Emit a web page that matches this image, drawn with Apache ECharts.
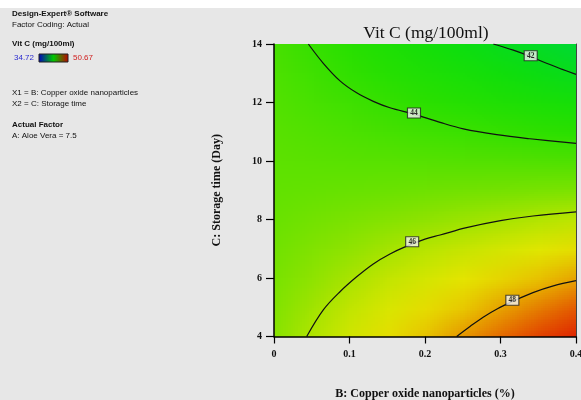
<!DOCTYPE html>
<html>
<head>
<meta charset="utf-8">
<script src="https://cdn.jsdelivr.net/npm/echarts/dist/echarts.min.js"></script>
<style>
  html, body { margin: 0; padding: 0; background: #e7e7e7; }
  #chart { width: 581px; height: 400px; }
</style>
</head>
<body>
<div id="chart"></div>
<script>
// ---- Response surface: Vit C (mg/100ml) over copper oxide (%) and storage time (day)
const copperOxide = [0, 0.05, 0.1, 0.15, 0.2, 0.25, 0.3, 0.35, 0.4];
const storageDays = [4, 5, 6, 7, 8, 9, 10, 11, 12, 13, 14];
// one row per storage day, one column per copper oxide level
const vitC = [
  [45.55, 46.06, 46.56, 47.07, 47.58, 48.08, 48.59, 49.09, 49.60],
  [45.43, 45.85, 46.26, 46.68, 47.09, 47.51, 47.92, 48.34, 48.76],
  [45.31, 45.64, 45.96, 46.29, 46.61, 46.94, 47.26, 47.59, 47.91],
  [45.19, 45.43, 45.66, 45.90, 46.13, 46.37, 46.60, 46.83, 47.07],
  [45.07, 45.22, 45.36, 45.51, 45.65, 45.79, 45.94, 46.08, 46.22],
  [44.96, 45.01, 45.06, 45.11, 45.17, 45.22, 45.27, 45.33, 45.38],
  [44.84, 44.80, 44.76, 44.72, 44.69, 44.65, 44.61, 44.57, 44.54],
  [44.72, 44.59, 44.46, 44.33, 44.20, 44.08, 43.95, 43.82, 43.69],
  [44.60, 44.38, 44.16, 43.94, 43.72, 43.50, 43.29, 43.07, 42.85],
  [44.48, 44.17, 43.86, 43.55, 43.24, 42.93, 42.62, 42.31, 42.00],
  [44.36, 43.96, 43.56, 43.16, 42.76, 42.36, 41.96, 41.56, 41.16]
];
const responseRange = [34.72, 50.67];

// contour lines [copper oxide, storage day]
const contourLevels = [42, 44, 46, 48];
const contour42 = [[0.2905, 14], [0.317, 13.79], [0.340, 13.57], [0.361, 13.34], [0.38, 13.15], [0.4, 12.96]];
const contour44 = [[0.0455, 14], [0.0653, 13.34], [0.0874, 12.74], [0.1095, 12.33], [0.1315, 12.04], [0.1536, 11.82],
                   [0.1854, 11.6], [0.22, 11.32], [0.2508, 11.1], [0.295, 10.9], [0.339, 10.76], [0.4, 10.6]];
const contour46 = [[0.0433, 4], [0.0653, 4.91], [0.0874, 5.53], [0.1095, 6.04], [0.1315, 6.48], [0.1536, 6.82],
                   [0.175, 7.08], [0.2, 7.33], [0.22, 7.47], [0.255, 7.72], [0.3, 7.96], [0.343, 8.12], [0.4, 8.26]];
const contour48 = [[0.242, 4], [0.26, 4.35], [0.277, 4.66], [0.296, 4.95], [0.316, 5.2], [0.343, 5.5], [0.37, 5.73], [0.4, 5.91]];
const contourLabelAt = [[0.340, 13.6], [0.1854, 11.64], [0.183, 7.24], [0.3157, 5.24]];

const xTicks = [0, 0.1, 0.2, 0.3, 0.4];
const yTicks = [4, 6, 8, 10, 12, 14];

// ---- colour ramp (blue -> green -> yellow -> red)
const rampStops = [
  [34.72, [0, 0, 230]],
  [38.5, [0, 150, 170]],
  [41.2, [0, 218, 50]],
  [42.5, [14, 222, 12]],
  [43.7, [42, 224, 0]],
  [45.0, [100, 226, 0]],
  [45.6, [140, 227, 0]],
  [46.2, [190, 229, 0]],
  [46.9, [228, 230, 0]],
  [47.5, [232, 200, 0]],
  [48.1, [230, 145, 0]],
  [48.8, [228, 85, 0]],
  [49.4, [224, 40, 0]],
  [50.67, [212, 0, 0]]
];
function rampColor(v) {
  if (v <= rampStops[0][0]) return rampStops[0][1];
  for (let i = 1; i < rampStops.length; i++) {
    const [v1, c1] = rampStops[i];
    const [v0, c0] = rampStops[i - 1];
    if (v <= v1) {
      const t = (v - v0) / (v1 - v0);
      return c0.map((c, k) => c + (c1[k] - c) * t);
    }
  }
  return rampStops[rampStops.length - 1][1];
}

// one pixel per surface node, top row = longest storage time
const nx = copperOxide.length, ny = storageDays.length;
const nodeImage = document.createElement('canvas');
nodeImage.width = nx; nodeImage.height = ny;
(function () {
  const ctx = nodeImage.getContext('2d');
  const img = ctx.createImageData(nx, ny);
  for (let r = 0; r < ny; r++) {
    const row = vitC[ny - 1 - r];
    for (let c = 0; c < nx; c++) {
      const col = rampColor(row[c]);
      const o = (r * nx + c) * 4;
      img.data[o] = Math.round(col[0]);
      img.data[o + 1] = Math.round(col[1]);
      img.data[o + 2] = Math.round(col[2]);
      img.data[o + 3] = 255;
    }
  }
  ctx.putImageData(img, 0, 0);
})();

function renderSurface(params, api) {
  const tl = api.coord([copperOxide[0], storageDays[ny - 1]]);
  const br = api.coord([copperOxide[nx - 1], storageDays[0]]);
  const w = br[0] - tl[0], h = br[1] - tl[1];
  const cw = w / (nx - 1), ch = h / (ny - 1);
  const out = document.createElement('canvas');
  out.width = Math.round(w); out.height = Math.round(h);
  const ctx = out.getContext('2d');
  ctx.imageSmoothingEnabled = true;
  ctx.drawImage(nodeImage, -cw / 2, -ch / 2, out.width + cw, out.height + ch);
  return { type: 'image', style: { image: out, x: tl[0], y: tl[1], width: w, height: h } };
}

const contours = [contour42, contour44, contour46, contour48];
const serif = 'Liberation Serif, Times New Roman, serif';
const sans = 'Liberation Sans, Arial, sans-serif';

const chart = echarts.init(document.getElementById('chart'), null, { renderer: 'canvas' });
chart.setOption({
  backgroundColor: '#e7e7e7',
  animation: false,
  grid: { left: 274, top: 44, right: 5, bottom: 63.5, outerBoundsMode: 'none', containLabel: false },
  xAxis: {
    type: 'value', min: xTicks[0], max: xTicks[xTicks.length - 1], interval: 0.1, z: 10,
    axisLine: { lineStyle: { color: '#000', width: 1.5 } },
    axisTick: { length: 7, lineStyle: { color: '#000', width: 1.2 } },
    axisLabel: { fontFamily: serif, fontWeight: 'bold', fontSize: 10, color: '#111', margin: 13 },
    splitLine: { show: false },
    name: 'B: Copper oxide nanoparticles (%)', nameLocation: 'middle', nameGap: 51,
    nameTextStyle: { fontFamily: serif, fontWeight: 'bold', fontSize: 12, color: '#111' }
  },
  yAxis: [{
    type: 'value', min: yTicks[0], max: yTicks[yTicks.length - 1], interval: 2, z: 10,
    axisLine: { lineStyle: { color: '#000', width: 1.5 } },
    axisTick: { length: 8, lineStyle: { color: '#000', width: 1.2 } },
    axisLabel: { fontFamily: serif, fontWeight: 'bold', fontSize: 10, color: '#111', margin: 12 },
    splitLine: { show: false },
    name: 'C: Storage time (Day)', nameLocation: 'middle', nameGap: 51, nameRotate: 90,
    nameTextStyle: { fontFamily: serif, fontWeight: 'bold', fontSize: 12, color: '#111' }
  }, {
    type: 'value', position: 'right', min: yTicks[0], max: yTicks[yTicks.length - 1], z: 10,
    axisLine: { show: true, lineStyle: { color: '#444', width: 1 } },
    axisTick: { show: false }, axisLabel: { show: false }, splitLine: { show: false }
  }],
  graphic: [
    { type: 'rect', shape: { x: 0, y: 0, width: 581, height: 8 }, style: { fill: '#ffffff' }, silent: true },
    { type: 'text', x: 12, y: 14, style: { text: 'Design-Expert® Software', font: 'bold 8px ' + sans, fill: '#111', verticalAlign: 'middle' } },
    { type: 'text', x: 12, y: 24.5, style: { text: 'Factor Coding: Actual', font: '8px ' + sans, fill: '#111', verticalAlign: 'middle' } },
    { type: 'text', x: 12, y: 44, style: { text: 'Vit C (mg/100ml)', font: 'bold 8px ' + sans, fill: '#111', verticalAlign: 'middle' } },
    { type: 'text', x: 14, y: 58, style: { text: String(responseRange[0]), font: '8px ' + sans, fill: '#2b2bd0', verticalAlign: 'middle' } },
    { type: 'rect', shape: { x: 39, y: 54, width: 29, height: 8 },
      style: { fill: new echarts.graphic.LinearGradient(0, 0, 1, 0, [
        { offset: 0, color: '#0000c0' }, { offset: 0.5, color: '#00c800' }, { offset: 1, color: '#c00000' }]),
        stroke: '#222', lineWidth: 1 } },
    { type: 'text', x: 73, y: 58, style: { text: String(responseRange[1]), font: '8px ' + sans, fill: '#d02020', verticalAlign: 'middle' } },
    { type: 'text', x: 12, y: 92.7, style: { text: 'X1 = B: Copper oxide nanoparticles', font: '8px ' + sans, fill: '#111', verticalAlign: 'middle' } },
    { type: 'text', x: 12, y: 103.3, style: { text: 'X2 = C: Storage time', font: '8px ' + sans, fill: '#111', verticalAlign: 'middle' } },
    { type: 'text', x: 12, y: 124.7, style: { text: 'Actual Factor', font: 'bold 8px ' + sans, fill: '#111', verticalAlign: 'middle' } },
    { type: 'text', x: 12, y: 136, style: { text: 'A: Aloe Vera = 7.5', font: '8px ' + sans, fill: '#111', verticalAlign: 'middle' } },
    { type: 'text', x: 426, y: 33, style: { text: 'Vit C (mg/100ml)', font: '17.5px ' + serif, fill: '#111', textAlign: 'center', verticalAlign: 'middle' } }
  ],
  series: [
    { type: 'custom', coordinateSystem: 'cartesian2d', data: [[copperOxide[0], storageDays[0]]],
      renderItem: renderSurface, silent: true, z: 1 },
    ...contours.map((pts, i) => ({
      type: 'line', name: String(contourLevels[i]), data: pts, smooth: 0.35, showSymbol: false, silent: true, z: 3,
      lineStyle: { color: '#111', width: 1.2 }
    })),
    { type: 'scatter', z: 5, silent: true,
      data: contourLabelAt.map((p, i) => [p[0], p[1], contourLevels[i]]),
      symbol: 'rect', symbolSize: [13, 10],
      itemStyle: { color: '#f3f3f3', borderColor: '#222', borderWidth: 1 },
      label: { show: true, position: 'inside', formatter: p => String(p.value[2]),
               fontFamily: serif, fontSize: 7.5, fontWeight: 'bold', color: '#000' } }
  ]
});
</script>
</body>
</html>
